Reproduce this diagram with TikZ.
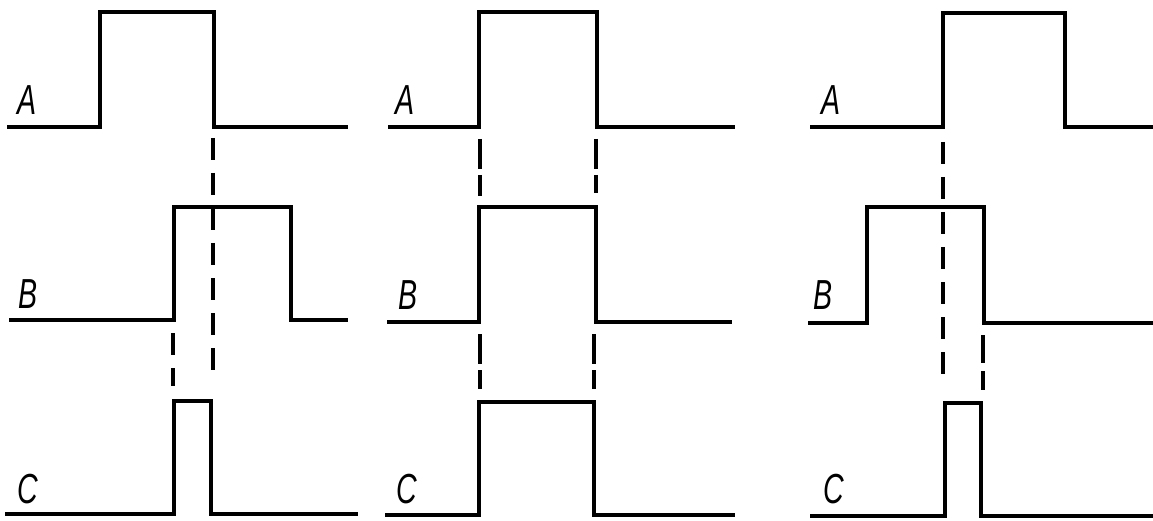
\documentclass[tikz,border=0pt]{standalone}
\usepackage{fontspec}
\setmainfont{Liberation Sans}
\begin{document}
\begin{tikzpicture}[x=1pt,y=-1pt,
  wave/.style={line width=3.4pt,line join=miter},
  guide/.style={line width=3.4pt,dash pattern=on 22pt off 13pt},
  lab/.style={font=\fontsize{42}{42}\selectfont\itshape,inner sep=0pt,xscale=0.68,anchor=base west}]
\useasboundingbox (0,0) rectangle (1153,521);
% ---------- panel 1 ----------
\draw[wave] (7,127) -- (100,127) -- (100,12) -- (214,12) -- (214,127) -- (348,127);
\draw[wave] (9,320) -- (174,320) -- (174,207) -- (291,207) -- (291,320) -- (348,320);
\draw[wave] (5,514) -- (174,514) -- (174,401) -- (211,401) -- (211,514) -- (358,514);
\coordinate (p1a) at (213,138); \coordinate (p1b) at (213,382);
\coordinate (p1c) at (173,333); \coordinate (p1d) at (173,386);
\draw[guide] (p1a) -- (p1b);
\draw[guide] (p1c) -- (p1d);
\node[lab] (A1) at (17,115) {A};
\node[lab] (B1) at (18,308) {B};
\node[lab] (C1) at (17,503) {C};
% ---------- panel 2 ----------
\draw[wave] (388,127) -- (479,127) -- (479,12) -- (597,12) -- (597,127) -- (735,127);
\draw[wave] (387,322) -- (479,322) -- (479,207) -- (596,207) -- (596,322) -- (732,322);
\draw[wave] (385,515) -- (479,515) -- (479,402) -- (594,402) -- (594,515) -- (735,515);
\coordinate (p2a) at (480,139); \coordinate (p2b) at (480,196);
\coordinate (p2c) at (596,139); \coordinate (p2d) at (596,193);
\coordinate (p2e) at (480,334); \coordinate (p2f) at (480,389);
\coordinate (p2g) at (594,334); \coordinate (p2h) at (594,389);
\draw[guide,dash pattern=on 30pt off 6pt] (p2a) -- (p2b);
\draw[guide,dash pattern=on 30pt off 6pt] (p2c) -- (p2d);
\draw[guide,dash pattern=on 30pt off 6pt] (p2e) -- (p2f);
\draw[guide,dash pattern=on 30pt off 6pt] (p2g) -- (p2h);
\node[lab] (A2) at (395,115) {A};
\node[lab] (B2) at (398,309) {B};
\node[lab] (C2) at (396,503) {C};
% ---------- panel 3 ----------
\draw[wave] (810,127) -- (943,127) -- (943,13) -- (1065,13) -- (1065,127) -- (1153,127);
\draw[wave] (808,323) -- (867,323) -- (867,207) -- (984,207) -- (984,323) -- (1153,323);
\draw[wave] (810,516) -- (945,516) -- (945,403) -- (981,403) -- (981,516) -- (1153,516);
\coordinate (p3a) at (943,142); \coordinate (p3b) at (943,386);
\coordinate (p3c) at (983,335); \coordinate (p3d) at (983,390);
\draw[guide] (p3a) -- (p3b);
\draw[guide,dash pattern=on 28pt off 8pt] (p3c) -- (p3d);
\node[lab] (A3) at (821,115) {A};
\node[lab] (B3) at (813,309) {B};
\node[lab] (C3) at (823,503) {C};
\end{tikzpicture}
\end{document}
